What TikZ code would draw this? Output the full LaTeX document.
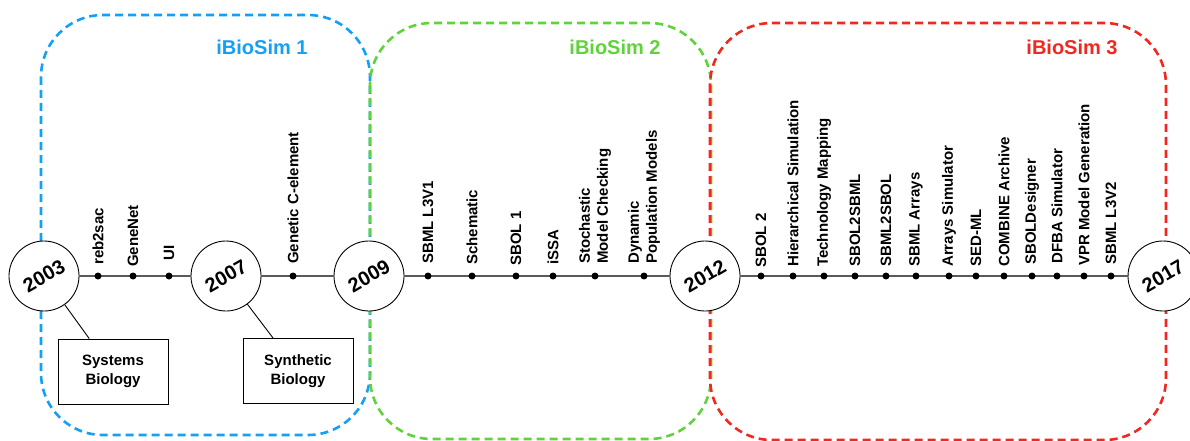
\documentclass[tikz,border=0pt]{standalone}
\usepackage{fontspec}
\setmainfont{Liberation Sans}
\definecolor{iblue}{RGB}{20,160,245}
\definecolor{igreen}{RGB}{95,210,60}
\definecolor{ired}{RGB}{240,40,30}
\tikzset{
  region/.style={line width=2.6pt, dash pattern=on 8pt off 5pt, rounded corners=62pt},
  year/.style={circle, draw=black, line width=0.9pt, fill=white, minimum size=70pt, inner sep=0pt,
    font=\fontsize{20}{24}\selectfont\bfseries, rotate=30},
  evdot/.style={circle, fill=black, inner sep=0pt, minimum size=7pt},
  evlab/.style={rotate=90, anchor=west, inner sep=0pt, align=left,
    font=\fontsize{15}{18}\selectfont\bfseries},
  title/.style={font=\fontsize{20}{24}\selectfont\bfseries},
  topic/.style={draw=black, line width=0.9pt, minimum width=110pt, minimum height=65pt, align=center,
    font=\fontsize{15}{19}\selectfont\bfseries},
  tline/.style={line width=1.2pt},
  link/.style={line width=0.9pt}
}
\begin{document}
\begin{tikzpicture}[x=1pt,y=-1pt]
\useasboundingbox (0,0) rectangle (1190,441);
% regions
\draw[region, iblue] (41,15) rectangle (370,435);
\draw[region, igreen] (370,23) rectangle (711,439);
\draw[region, ired] (710,23) rectangle (1166,440);
\node[title, text=iblue] (t1) at (262,47) {iBioSim 1};
\node[title, text=igreen] (t2) at (615,47) {iBioSim 2};
\node[title, text=ired] (t3) at (1072,47) {iBioSim 3};
% year circles
\node[year] (c2003) at (44,276) {2003};
\node[year] (c2007) at (226,276) {2007};
\node[year] (c2009) at (369,276) {2009};
\node[year] (c2012) at (705,276) {2012};
\node[year] (c2017) at (1163,276) {2017};
\draw[tline] (c2003) -- (c2007) -- (c2009) -- (c2012) -- (c2017);
% topic boxes
\node[topic] (sb) at (113,371.5) {Systems\\Biology};
\node[topic] (syb) at (298,371) {Synthetic\\Biology};
\draw[link] (c2003) -- (sb);
\draw[link] (c2007) -- (syb);
% events
\node[evdot] (e1) at (98,276) {};   \node[evlab] (l1) at (98,265) {reb2sac};
\node[evdot] (e2) at (133,276) {};  \node[evlab] (l2) at (133,267) {GeneNet};
\node[evdot] (e3) at (169,276) {};  \node[evlab] (l3) at (169,261) {UI};
\node[evdot] (e4) at (293,276) {};  \node[evlab] (l4) at (293,264) {Genetic C-element};
\node[evdot] (e5) at (428,276) {};  \node[evlab] (l5) at (428,264) {SBML L3V1};
\node[evdot] (e6) at (472,276) {};  \node[evlab] (l6) at (472,265) {Schematic};
\node[evdot] (e7) at (516,276) {};  \node[evlab] (l7) at (516,266) {SBOL 1};
\node[evdot] (e8) at (553,276) {};  \node[evlab] (l8) at (553,265) {iSSA};
\node[evdot] (e9) at (595,276) {};  \node[evlab] (l9) at (595,264) {Stochastic\\Model Checking};
\node[evdot] (e10) at (644,276) {}; \node[evlab] (l10) at (644,264) {Dynamic\\Population Models};
\node[evdot] (e11) at (761,276) {};  \node[evlab] (l11) at (761,268) {SBOL 2};
\node[evdot] (e12) at (793,276) {};  \node[evlab] (l12) at (793,267) {Hierarchical Simulation};
\node[evdot] (e13) at (824,276) {};  \node[evlab] (l13) at (824,267) {Technology Mapping};
\node[evdot] (e14) at (855,276) {};  \node[evlab] (l14) at (855,267) {SBOL2SBML};
\node[evdot] (e15) at (886,276) {};  \node[evlab] (l15) at (886,267) {SBML2SBOL};
\node[evdot] (e16) at (916,276) {};  \node[evlab] (l16) at (916,267) {SBML Arrays};
\node[evdot] (e17) at (949,276) {};  \node[evlab] (l17) at (949,267) {Arrays Simulator};
\node[evdot] (e18) at (976,276) {};  \node[evlab] (l18) at (976,267) {SED-ML};
\node[evdot] (e19) at (1004,276) {}; \node[evlab] (l19) at (1004,267) {COMBINE Archive};
\node[evdot] (e20) at (1032,276) {}; \node[evlab] (l20) at (1032,265) {SBOLDesigner};
\node[evdot] (e21) at (1057,276) {}; \node[evlab] (l21) at (1057,264) {DFBA Simulator};
\node[evdot] (e22) at (1084,276) {}; \node[evlab] (l22) at (1084,266) {VPR Model Generation};
\node[evdot] (e23) at (1111,276) {}; \node[evlab] (l23) at (1111,265) {SBML L3V2};
\end{tikzpicture}
\end{document}
